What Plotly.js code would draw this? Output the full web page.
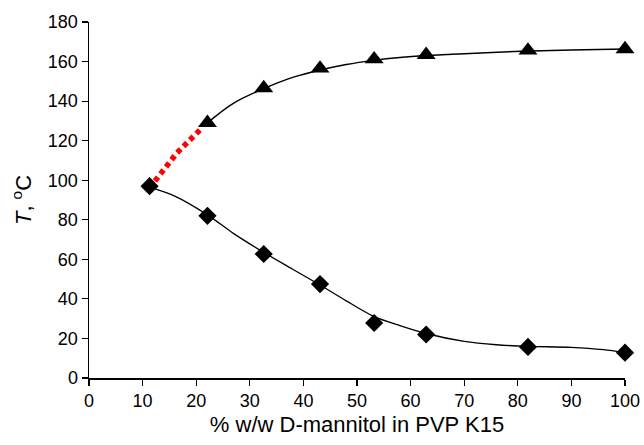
<!DOCTYPE html>
<html><head><meta charset="utf-8">
<script src="https://cdn.plot.ly/plotly-3.0.1.min.js"></script>
<style>html,body{margin:0;padding:0;background:#fff}#c{width:644px;height:445px}</style>
</head><body><div id="c"></div>
<script>
// measured data
const xDiamond = [11.3, 22.1, 32.6, 43.1, 53.2, 62.9, 81.9, 100];
const yDiamond = [97, 82, 62.7, 47.5, 27.8, 22, 15.7, 12.8];
const xTriangle = [22.1, 32.6, 43.1, 53.2, 62.9, 81.9, 100];
const yTriangle = [129, 146.6, 156.5, 161.2, 163.4, 165.6, 166.3];
// fitted curves
const xFitLow = [11.3, 16, 22.1, 27, 32.6, 38, 43.1, 48, 53.2, 58, 62.9, 70, 76, 81.9, 90, 96, 100];
const yFitLow = [96.5, 92, 82.5, 73, 63.5, 55, 47, 39, 31, 26.5, 22.5, 18.5, 16.8, 16, 15.5, 14.3, 12.8];
const xFitHigh = [22.1, 27, 32.6, 38, 43.1, 48, 53.2, 58, 62.9, 70, 81.9, 90, 100];
const yFitHigh = [129, 139, 146.3, 152, 155.7, 158.5, 160.6, 162, 163, 164, 165.3, 165.8, 166.3];
const xRed = [12.3, 16.4, 20.7];
const yRed = [99.6, 113.8, 125.4];
const xTicks = [0, 10, 20, 30, 40, 50, 60, 70, 80, 90, 100];
const yTicks = [0, 20, 40, 60, 80, 100, 120, 140, 160, 180];

const font = 'Liberation Sans, Arial, sans-serif';
const traces = [
  {x: xRed, y: yRed, mode: 'lines', line: {color: '#ff0000', width: 5.5, dash: '5px,4px'}, hoverinfo: 'skip'},
  {x: xFitLow, y: yFitLow, mode: 'lines', line: {color: '#000', width: 1.3, shape: 'spline', smoothing: 0.8}},
  {x: xFitHigh, y: yFitHigh, mode: 'lines', line: {color: '#000', width: 1.5, shape: 'spline'}},
  {x: xDiamond, y: yDiamond, mode: 'markers', marker: {symbol: 'diamond', size: 14, color: '#000'}, cliponaxis: false},
  {x: xTriangle, y: yTriangle, mode: 'markers', marker: {symbol: 'triangle-up', size: 16.5, color: '#000'}, cliponaxis: false}
];
const layout = {
  width: 644, height: 445,
  margin: {l: 89, r: 19, t: 22, b: 67},
  showlegend: false,
  paper_bgcolor: '#fff', plot_bgcolor: '#fff',
  font: {family: font, color: '#000', size: 18},
  xaxis: {
    range: [0, 100], tickvals: xTicks, ticktext: xTicks.map(String),
    showgrid: false, zeroline: false, showline: true, linecolor: '#000', linewidth: 1.5,
    ticks: 'outside', ticklen: 6, tickwidth: 1.2, tickcolor: '#000',
    tickfont: {size: 18, family: font},
    title: {text: '% w/w D-mannitol in PVP K15', font: {size: 22, family: font}, standoff: 6}
  },
  yaxis: {
    range: [0, 180], tickvals: yTicks, ticktext: yTicks.map(String),
    showgrid: false, zeroline: false, showline: true, linecolor: '#000', linewidth: 1.5,
    ticks: 'outside', ticklen: 6, tickwidth: 1.2, tickcolor: '#000',
    tickfont: {size: 18, family: font},
    title: {text: '<i>T</i>, <sup>o</sup>C', font: {size: 22, family: font}, standoff: 10}
  }
};
Plotly.newPlot('c', traces, layout, {staticPlot: true, displayModeBar: false});
</script></body></html>
